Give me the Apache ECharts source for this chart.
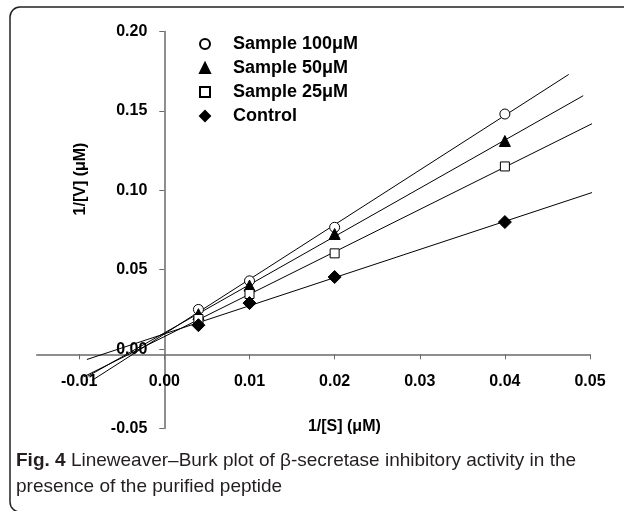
<!DOCTYPE html>
<html>
<head>
<meta charset="utf-8">
<script src="https://cdn.jsdelivr.net/npm/echarts@6/dist/echarts.min.js"></script>
<style>html,body{margin:0;padding:0;background:#fff}#c{width:624px;height:511px}</style>
</head>
<body>
<div id="c"></div>
<script>
// ---- data ----
const xValues = [0.004, 0.01, 0.02, 0.04];
const seriesNames = ['Sample 100\u03bcM', 'Sample 50\u03bcM', 'Sample 25\u03bcM', 'Control'];
const sample100 = [0.025, 0.043, 0.0767, 0.148];
const sample50 = [0.022, 0.040, 0.0725, 0.131];
const sample25 = [0.019, 0.0347, 0.0603, 0.115];
const control = [0.0151, 0.029, 0.0454, 0.080];
const fitFrom = [-0.0085, -0.009, -0.0095, -0.0091];
const fitTo = [0.0475, 0.0492, 0.0512, 0.0512];
const xTickValues = [-0.01, 0, 0.01, 0.02, 0.03, 0.04, 0.05];

const allY = [sample100, sample50, sample25, control];
const symbols = ['circle', 'triangle', 'rect', 'diamond'];
const symbolSizes = [10, 11, 9, 13];
const fills = ['#fff', '#000', '#fff', '#000'];

function fit(xs, ys) {
  const n = xs.length;
  const mx = xs.reduce((a, b) => a + b, 0) / n;
  const my = ys.reduce((a, b) => a + b, 0) / n;
  let sxy = 0, sxx = 0;
  for (let i = 0; i < n; i++) { sxy += (xs[i] - mx) * (ys[i] - my); sxx += (xs[i] - mx) * (xs[i] - mx); }
  const b = sxy / sxx;
  return { slope: b, icpt: my - b * mx };
}

const series = [];
allY.forEach((ys, i) => {
  const f = fit(xValues, ys);
  series.push({
    type: 'line', silent: true, symbol: 'none', z: 1,
    lineStyle: { color: '#000', width: 1 },
    data: [[fitFrom[i], f.icpt + f.slope * fitFrom[i]], [fitTo[i], f.icpt + f.slope * fitTo[i]]]
  });
});
allY.forEach((ys, i) => {
  series.push({
    type: 'scatter', name: seriesNames[i], z: 3,
    symbol: symbols[i], symbolSize: symbolSizes[i],
    itemStyle: { color: fills[i], borderColor: '#000', borderWidth: 1, opacity: 1 },
    data: xValues.map((x, j) => [x, ys[j]])
  });
});

const chart = echarts.init(document.getElementById('c'), null, { renderer: 'canvas' });
chart.setOption({
  animation: false,
  backgroundColor: '#fff',
  grid: { left: 36.7, right: 34, top: 31.4, bottom: 82.4, containLabel: false, outerBoundsMode: 'none' },
  legend: {
    data: seriesNames,
    orient: 'vertical',
    left: 194, top: 30,
    itemWidth: 10, itemHeight: 10, itemGap: 6,
    symbolKeepAspect: true,
    selectedMode: false,
    textStyle: { fontFamily: 'Liberation Sans', fontWeight: 'bold', fontSize: 18, color: '#000', lineHeight: 17, padding: [0, 0, 0, 18] }
  },
  xAxis: {
    type: 'value', min: -0.015, max: 0.05,
    position: 'bottom', offset: -74.3,
    axisLine: { onZero: false, lineStyle: { color: '#6a6a6a', width: 1.5 } },
    axisTick: { show: true, length: 5, customValues: xTickValues, lineStyle: { color: '#6a6a6a', width: 1 } },
    axisLabel: { customValues: xTickValues, margin: 19, formatter: v => v.toFixed(2),
      fontFamily: 'Liberation Sans', fontWeight: 'bold', fontSize: 16, color: '#000' },
    splitLine: { show: false },
    name: '1/[S] (\u03bcM)', nameLocation: 'middle', nameGap: 64,
    nameTextStyle: { fontFamily: 'Liberation Sans', fontWeight: 'bold', fontSize: 16, color: '#000', padding: [0, 0, 0, 62] }
  },
  yAxis: {
    type: 'value', min: -0.05, max: 0.20, interval: 0.05,
    position: 'left', offset: -127.6,
    axisLine: { show: true, onZero: false, lineStyle: { color: '#6a6a6a', width: 1.5 } },
    axisTick: { show: true, length: 5, lineStyle: { color: '#6a6a6a', width: 1 } },
    axisLabel: { margin: 17, formatter: v => v.toFixed(2),
      fontFamily: 'Liberation Sans', fontWeight: 'bold', fontSize: 16, color: '#000' },
    splitLine: { show: false },
    name: '1/[V] (\u03bcM)', nameLocation: 'middle', nameGap: 76, nameRotate: 90,
    nameTextStyle: { fontFamily: 'Liberation Sans', fontWeight: 'bold', fontSize: 16, color: '#000', padding: [0, 0, 0, 102] }
  },
  graphic: [
    { type: 'rect', silent: true, shape: { x: 10, y: 7, width: 700, height: 505, r: 10 },
      style: { fill: 'none', stroke: '#222', lineWidth: 1.5 } },
    { type: 'text', left: 16, top: 451, silent: true,
      style: { text: '{b|Fig. 4} Lineweaver\u2013Burk plot of \u03b2-secretase inhibitory activity in the',
        font: '19px "Liberation Sans"', fill: '#231f20',
        rich: { b: { fontWeight: 'bold', fontSize: 19, fontFamily: 'Liberation Sans', fill: '#231f20' } } } },
    { type: 'text', left: 16, top: 477, silent: true,
      style: { text: 'presence of the purified peptide', font: '19px "Liberation Sans"', fill: '#231f20' } }
  ],
  series: series
});
</script>
</body>
</html>
